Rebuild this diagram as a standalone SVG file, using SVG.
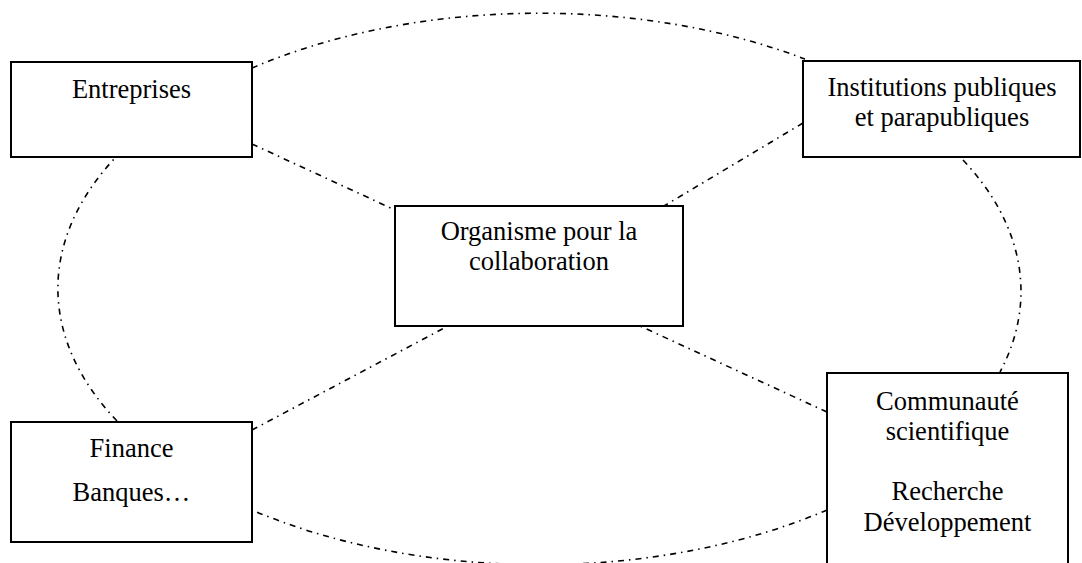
<svg xmlns="http://www.w3.org/2000/svg" width="1082" height="563" viewBox="0 0 1082 563">
<style>
.box{fill:#fff;stroke:#000;stroke-width:2}
.lbl{font-family:"Liberation Serif","Times New Roman",serif;font-size:26.5px;fill:#000;text-anchor:middle}
.con{fill:none;stroke:#000;stroke-width:1.6;stroke-dasharray:6 5 1.5 5}
</style>
<rect width="1082" height="563" fill="#fff"/>
<g id="connectors">
<path class="con" d="M252,68 A481,276 0 0 1 805,59"/>
<path class="con" d="M963,160 A481,276 0 0 1 1000,372"/>
<path class="con" d="M827,510 A481,276 0 0 1 252,510"/>
<path class="con" d="M117,421 A481,276 0 0 1 115,158"/>
<path class="con" d="M252,144 L395,210"/>
<path class="con" d="M803,123 L664,206"/>
<path class="con" d="M252,430 L448,326"/>
<path class="con" d="M827,412 L640,326"/>
</g>
<g id="entreprises">
<rect class="box" x="11" y="62" width="241" height="95"/>
<text class="lbl" x="131.5" y="98">Entreprises</text>
</g>
<g id="institutions">
<rect class="box" x="803" y="61" width="277" height="96"/>
<text class="lbl" x="942" y="96">Institutions publiques</text>
<text class="lbl" x="942" y="126">et parapubliques</text>
</g>
<g id="organisme">
<rect class="box" x="395" y="206" width="288" height="120"/>
<text class="lbl" x="539" y="240">Organisme pour la</text>
<text class="lbl" x="539" y="270">collaboration</text>
</g>
<g id="finance">
<rect class="box" x="11" y="422" width="241" height="120"/>
<text class="lbl" x="131.5" y="457">Finance</text>
<text class="lbl" x="131.5" y="501">Banques…</text>
</g>
<g id="communaute">
<rect class="box" x="827" y="373" width="241" height="220"/>
<text class="lbl" x="947.5" y="410">Communauté</text>
<text class="lbl" x="947.5" y="440">scientifique</text>
<text class="lbl" x="947.5" y="500">Recherche</text>
<text class="lbl" x="947.5" y="531">Développement</text>
</g>
</svg>
